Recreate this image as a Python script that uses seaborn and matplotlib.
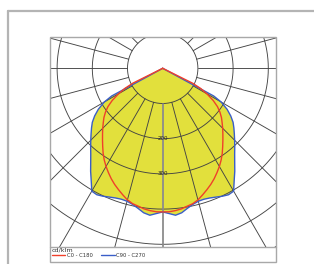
import numpy as np
import matplotlib
matplotlib.use("Agg")
import matplotlib.pyplot as plt
from matplotlib.patches import Rectangle
from matplotlib.lines import Line2D
import seaborn as sns

sns.set_style("white")
plt.rcParams["font.family"] = ["DejaVu Sans"]

# ---- data (gamma in degrees, intensity in cd/klm), symmetric half-curves ----
gamma_c0 = [0, 2.5, 5, 7.5, 10, 12.5, 15, 17.5, 20, 22.5, 25, 27.5, 30, 32.5, 35, 37.5,
            40, 42.5, 45, 47.5, 50, 52.5, 55, 57.5, 60, 62, 63.5, 64.5, 180]
int_c0 = [408, 408, 406, 403, 398, 394, 387, 377, 367, 357, 346, 334, 322, 309, 295, 280,
          266, 253, 241, 229, 218, 205, 190, 170, 145, 122, 95, 0, 0]

gamma_c90 = [0, 2.5, 5, 7.5, 10, 12.5, 15, 17.5, 20, 22.5, 25, 27.5, 30, 32.5, 35, 37.5,
             40, 42.5, 45, 47.5, 50, 52.5, 55, 57.5, 60, 61.5, 62.5, 180]
int_c90 = [408, 413, 419, 414, 404, 396, 391, 390, 392, 396, 401, 405, 403, 378, 357, 336,
           318, 303, 289, 276, 264, 252, 236, 217, 192, 165, 0, 0]

ring_values = [100, 200, 300, 400, 500, 600]
ring_labels = ["200", "300"]
series_names = ["C0 - C180", "C90 - C270"]
unit_label = "cd/klm"

RED = "#f0402a"
BLUE = "#3a5ec8"
YELLOW = "#e2e03c"
GRID = "#444444"

W, H = 314, 264
fig = plt.figure(figsize=(W / 100, H / 100), dpi=100)

# polar axes geometry (pixels)
cx, cy = 162.7, 68.3
rmax = 620
px_per_unit = 0.352
R = rmax * px_per_unit
ax = fig.add_axes([(cx - R) / W, (H - cy - R) / H, 2 * R / W, 2 * R / H], projection="polar")
ax.set_theta_zero_location("S")
ax.patch.set_visible(False)
ax.spines["polar"].set_visible(False)
ax.grid(False)


def mirror(g, v):
    g = np.radians(np.asarray(g, dtype=float))
    v = np.asarray(v, dtype=float)
    th = np.concatenate([-g[::-1], g[1:]])
    rr = np.concatenate([v[::-1], v[1:]])
    return th, rr


th0, r0 = mirror(gamma_c0, int_c0)
th90, r90 = mirror(gamma_c90, int_c90)

# fills
ax.fill(th90, r90, color=YELLOW, lw=0, zorder=1)
ax.fill(th0, r0, color=YELLOW, lw=0, zorder=1)

# grid rings
tt = np.linspace(0, 2 * np.pi, 721)
for rv in ring_values:
    ax.plot(tt, np.full_like(tt, rv), color=GRID, lw=0.65, zorder=2)
# grid rays (start at first ring)
for a in range(0, 360, 15):
    ar = np.radians(a)
    if a == 0:
        ax.plot([ar, ar], [ring_values[0], rmax], color="#8c8c8c", lw=1.3, zorder=2)
    else:
        ax.plot([ar, ar], [ring_values[0], rmax], color=GRID, lw=0.65, zorder=2)

# curves via seaborn
sns.lineplot(x=th0, y=r0, ax=ax, sort=False, estimator=None, color=RED, linewidth=1.0, zorder=4)
sns.lineplot(x=th90, y=r90, ax=ax, sort=False, estimator=None, color=BLUE, linewidth=1.0, zorder=3)

for lab in ring_labels:
    ax.text(0, float(lab), lab, ha="center", va="center", fontsize=4, color="#222222", zorder=5)

ax.set_xlim(0, 2 * np.pi)
ax.set_ylim(0, rmax)
ax.set_xticks([])
ax.set_yticks([])
ax.set_xlabel("")
ax.set_ylabel("")

# clip everything to the rectangular plot box
bx0, bx1, by0, by1 = 50, 276, 37, 247
clip = Rectangle((bx0 / W, 1 - by1 / H), (bx1 - bx0) / W, (by1 - by0) / H, transform=fig.transFigure)
for art in list(ax.lines) + list(ax.patches) + list(ax.collections) + list(ax.texts):
    art.set_clip_path(clip)

# box border + divider
fig.add_artist(Rectangle((bx0 / W, 1 - 262 / H), (bx1 - bx0) / W, (262 - by0) / H, fill=False,
                         edgecolor="#a8a8a8", lw=1.0, transform=fig.transFigure))
fig.add_artist(Line2D([bx0 / W, bx1 / W], [1 - by1 / H, 1 - by1 / H], color="#a8a8a8", lw=1.0,
                      transform=fig.transFigure))
# outer frame
fig.add_artist(Line2D([7.5 / W, 7.5 / W], [0, 1 - 10.5 / H], color="#b4b4b4", lw=1.6, transform=fig.transFigure))
fig.add_artist(Line2D([7.5 / W, 1], [1 - 10.5 / H, 1 - 10.5 / H], color="#b4b4b4", lw=1.6, transform=fig.transFigure))

# legend
handles = [Line2D([], [], color=RED, lw=1.0), Line2D([], [], color=BLUE, lw=1.0)]
leg = fig.legend(handles, series_names, loc="upper left", bbox_to_anchor=(51 / W, 1 - 246.5 / H),
                 ncol=2, frameon=False, title=unit_label, alignment="left", fontsize=3.8,
                 title_fontsize=4.6, handlelength=2.5, handletextpad=0.3, columnspacing=1.7,
                 borderpad=0.15, borderaxespad=0, labelspacing=0.1)
for t in leg.get_texts():
    t.set_color("#333333")
leg.get_title().set_color("#333333")

fig.savefig("out.png", dpi=100)
